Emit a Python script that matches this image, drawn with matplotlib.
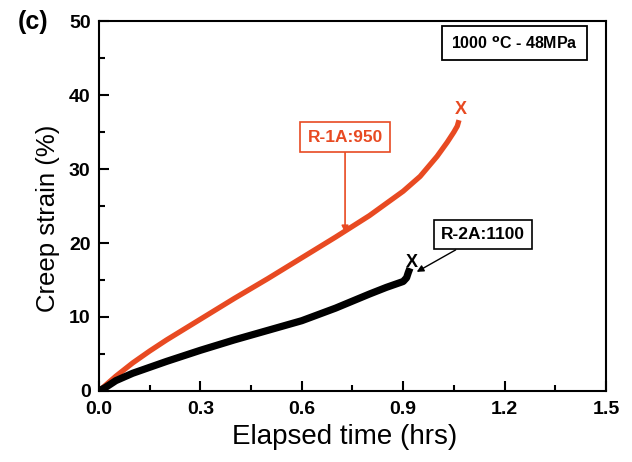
"""Creep strain vs elapsed time for two specimens at 1000 C / 48 MPa."""

import matplotlib.pyplot as plt

plt.rcParams['font.family'] = ['Liberation Sans', 'DejaVu Sans']

# R-1A:950 curve (hrs, %)
t_r1 = [0.0, 0.02, 0.05, 0.1, 0.15, 0.2, 0.3, 0.4, 0.5, 0.6, 0.7, 0.8, 0.9,
        0.95, 1.0, 1.03, 1.05, 1.06, 1.065]
s_r1 = [0.0, 0.8, 2.0, 3.8, 5.4, 6.9, 9.7, 12.5, 15.2, 18.0, 20.8, 23.7, 27.0,
        29.0, 31.7, 33.6, 35.0, 35.8, 36.6]

# R-2A:1100 curve
t_r2 = [0.0, 0.02, 0.05, 0.1, 0.2, 0.3, 0.4, 0.5, 0.6, 0.7, 0.8, 0.85, 0.9,
        0.91, 0.915, 0.92]
s_r2 = [0.0, 0.5, 1.4, 2.4, 4.0, 5.5, 6.9, 8.2, 9.5, 11.2, 13.1, 14.0, 14.8,
        15.3, 16.0, 16.6]

# rupture points marked with an X
rupture_r1 = (1.07, 38.0)
rupture_r2 = (0.925, 17.4)

red = '#e84a22'

fig = plt.figure(figsize=(6.32, 4.62), dpi=100)
ax = fig.add_axes([0.1566, 0.1537, 0.8023, 0.8008])

ax.plot(t_r1, s_r1, color=red, linewidth=3.8, solid_capstyle='butt')
ax.plot(t_r2, s_r2, color='black', linewidth=5.2, solid_capstyle='butt')

ax.text(*rupture_r1, 'X', color=red, fontsize=13, fontweight='bold',
        ha='center', va='center')
ax.text(*rupture_r2, 'X', color='black', fontsize=13, fontweight='bold',
        ha='center', va='center')

# Labels with arrows
ax.annotate('R-1A:950', xy=(0.728, 21.4), xytext=(0.728, 34.3),
            color=red, fontsize=12.5, fontweight='bold', ha='center', va='center',
            bbox=dict(boxstyle='square,pad=0.42', fc='white', ec=red, lw=1.2),
            arrowprops=dict(arrowstyle='-|>', color=red, lw=1.2,
                            mutation_scale=10, shrinkA=0, shrinkB=0))
ax.annotate('R-2A:1100', xy=(0.94, 16.1), xytext=(1.136, 21.15),
            color='black', fontsize=12.5, fontweight='bold', ha='center', va='center',
            bbox=dict(boxstyle='square,pad=0.42', fc='white', ec='black', lw=1.2),
            arrowprops=dict(arrowstyle='-|>', color='black', lw=1.0,
                            mutation_scale=10, shrinkA=0, shrinkB=0))

ax.text(0.82, 0.94, '1000 $^{\\mathbf{o}}$C - 48MPa', transform=ax.transAxes,
        fontsize=11.5, fontweight='bold', ha='center', va='center',
        bbox=dict(boxstyle='square,pad=0.55', fc='white', ec='black', lw=1.3))

ax.set_xlim(0, 1.5)
ax.set_ylim(0, 50)
ax.set_xticks([0.0, 0.3, 0.6, 0.9, 1.2, 1.5])
ax.set_xticks([0.15, 0.45, 0.75, 1.05, 1.35], minor=True)
ax.set_yticks([0, 10, 20, 30, 40, 50])
ax.set_yticks([5, 15, 25, 35, 45], minor=True)
ax.tick_params(which='both', direction='in', width=1.5, labelsize=14)
ax.tick_params(which='major', length=7)
ax.tick_params(which='minor', length=4)
ax.tick_params(axis='x', pad=7)
ax.tick_params(axis='y', pad=6)
for lab in ax.get_xticklabels() + ax.get_yticklabels():
    lab.set_fontweight('bold')
for sp in ax.spines.values():
    sp.set_linewidth(1.5)

ax.set_xlabel('Elapsed time (hrs)', fontsize=20)
ax.set_ylabel('Creep strain (%)', fontsize=18.5)
ax.xaxis.set_label_coords(0.485, -0.09)
ax.yaxis.set_label_coords(-0.077, 0.468)

fig.text(0.028, 0.953, '(c)', fontsize=18, fontweight='bold', va='center')

fig.savefig('out.png', dpi=100)
